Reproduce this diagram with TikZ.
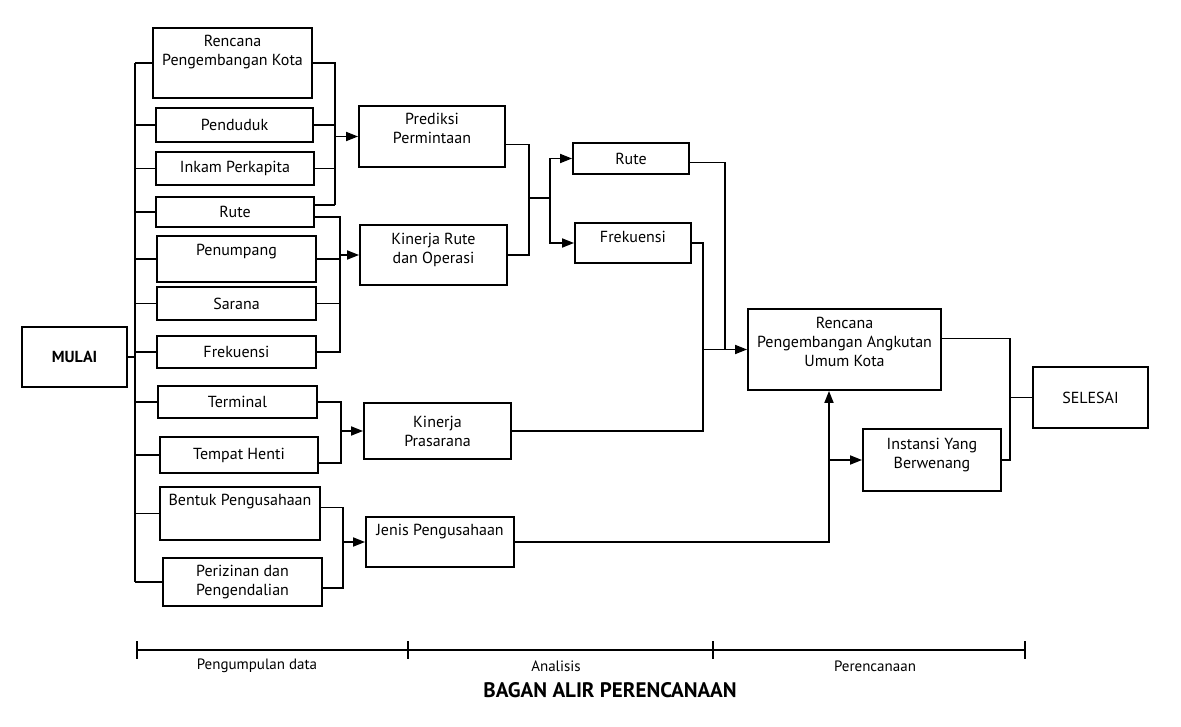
\documentclass[tikz,border=0pt]{standalone}
\usepackage{fontspec}
\setmainfont{PT Sans}
\usetikzlibrary{arrows.meta}
\tikzset{
  box/.style={draw, line width=1.9pt, align=center, inner sep=2pt,
    font=\fontsize{16}{19}\selectfont},
  arr/.style={-{Triangle[length=12pt,width=9pt]}},
  fase/.style={font=\fontsize{15}{17}\selectfont},
}
\begin{document}
\begin{tikzpicture}[x=1pt,y=-1pt,line width=1.8pt]
  \useasboundingbox[fill=white] (0,0) rectangle (1181,726);
  % kolom pengumpulan data
  \node[box, minimum width=105pt, minimum height=60pt, font=\fontsize{16}{19}\bfseries] (mulai) at (74.5,357) {MULAI};
  \node[box, minimum width=159pt, minimum height=70pt] (rpk) at (232.5,63) {Rencana\\Pengembangan Kota\\[6pt]\mbox{}};
  \node[box, minimum width=157pt, minimum height=34pt] (pend) at (234.5,125) {Penduduk};
  \node[box, minimum width=158pt, minimum height=33pt] (inkam) at (235,168.5) {Inkam Perkapita};
  \node[box, minimum width=158pt, minimum height=30pt] (rute1) at (235,212) {Rute};
  \node[box, minimum width=159pt, minimum height=46pt] (penump) at (236.5,259) {Penumpang\\[0pt]\mbox{}};
  \node[box, minimum width=159pt, minimum height=33pt] (sarana) at (236.5,303.5) {Sarana};
  \node[box, minimum width=159pt, minimum height=32pt] (frek1) at (236.5,352) {Frekuensi};
  \node[box, minimum width=159pt, minimum height=32pt] (terminal) at (237.5,402) {Terminal};
  \node[box, minimum width=158pt, minimum height=36pt] (tempat) at (239,455) {Tempat Henti};
  \node[box, minimum width=160pt, minimum height=53pt] (bentuk) at (240,513.5) {Bentuk Pengusahaan\\[8pt]\mbox{}};
  \node[box, minimum width=159pt, minimum height=48pt] (perizinan) at (242.5,582) {Perizinan dan\\Pengendalian};
  % kolom analisis
  \node[box, minimum width=146pt, minimum height=61pt] (prediksi) at (432,136.5) {Prediksi\\Permintaan\\[-3pt]\mbox{}};
  \node[box, minimum width=147pt, minimum height=60pt] (kinrute) at (433.5,255) {Kinerja Rute\\dan Operasi\\[-6pt]\mbox{}};
  \node[box, minimum width=147pt, minimum height=56pt] (kinpras) at (437.5,431) {Kinerja\\Prasarana};
  \node[box, minimum width=148pt, minimum height=50pt] (jenis) at (440,542) {Jenis Pengusahaan\\[6pt]\mbox{}};
  \node[box, minimum width=116pt, minimum height=31pt] (rute2) at (631,158.5) {Rute};
  \node[box, minimum width=116pt, minimum height=40pt] (frek2) at (633,243) {Frekuensi\\[-6pt]\mbox{}};
  % kolom perencanaan
  \node[box, minimum width=193pt, minimum height=81pt] (rpauk) at (844.5,349.5) {Rencana\\Pengembangan Angkutan\\Umum Kota\\[-3pt]\mbox{}};
  \node[box, minimum width=138pt, minimum height=62pt] (instansi) at (932,460) {Instansi Yang\\Berwenang\\[-6pt]\mbox{}};
  \node[box, minimum width=115pt, minimum height=61pt] (selesai) at (1090.5,397.5) {SELESAI};

  % garis bantu
  \coordinate (bus) at (135,0);
  \coordinate (b1) at (335,205);
  \coordinate (b2) at (340,0);
  \coordinate (b3) at (341,0);
  \coordinate (b4) at (343,0);
  \coordinate (b5) at (529,0);
  \coordinate (m1) at (529,198);
  \coordinate (m2) at (550,198);
  \coordinate (b7) at (725,0);
  \coordinate (b8) at (703,0);
  \coordinate (b9) at (829,0);
  \coordinate (b10) at (1010,0);

  % mulai ke data
  \draw (mulai.east) -- (mulai.east -| bus);
  \draw (rpk.west -| bus) -- (perizinan.west -| bus);
  \foreach \n in {rpk,pend,inkam,rute1,penump,sarana,frek1,terminal,tempat,bentuk,perizinan}
    \draw (\n.west) -- (\n.west -| bus);

  % data ke analisis
  \draw (rpk.east) -| (b1);
  \draw ([yshift=7pt]rute1.east) -- (b1);
  \draw (pend.east) -- (pend.east -| b1);
  \draw (inkam.east) -- (inkam.east -| b1);
  \draw[arr] (prediksi.west -| b1) -- (prediksi.west);

  \draw ([yshift=-5pt]rute1.east) -| (frek1.east -| b2) -- (frek1.east);
  \draw (sarana.east) -- (sarana.east -| b2);
  \draw (penump.east) -- (penump.east -| b2);
  \draw[arr] (kinrute.west -| b2) -- (kinrute.west);

  \draw (terminal.east) -| ([yshift=-8pt]tempat.east -| b3) -- ([yshift=-8pt]tempat.east);
  \draw[arr] (kinpras.west -| b3) -- (kinpras.west);

  \draw ([yshift=6pt]bentuk.east) -| ([yshift=-6pt]perizinan.east -| b4) -- ([yshift=-6pt]perizinan.east);
  \draw[arr] (jenis.west -| b4) -- (jenis.west);

  % analisis
  \draw ([yshift=-8pt]prediksi.east) -| (kinrute.east -| b5) -- (kinrute.east);
  \draw (m1) -- (m2);
  \draw[arr] (m2) |- (rute2.west);
  \draw[arr] (m2) |- (frek2.west);

  % analisis ke perencanaan
  \draw ([yshift=-4pt]rute2.east) -| (rpauk.west -| b7);
  \draw (frek2.east) -| (kinpras.east -| b8) -- (kinpras.east);
  \draw[arr] (rpauk.west -| b8) -- (rpauk.west);
  \draw[arr] (jenis.east) -| (rpauk.south -| b9);
  \draw[arr] (instansi.west -| b9) -- (instansi.west);
  \draw ([yshift=11pt]rpauk.east) -| (instansi.east -| b10) -- (instansi.east);
  \draw (selesai.west -| b10) -- (selesai.west);

  % garis waktu
  \draw (137,650) -- (1025,650);
  \foreach \x in {137,408,713,1025}
    \draw (\x,641) -- (\x,659);
  \node[fase] (tahap1) at (257,666) {Pengumpulan data};
  \node[fase] (tahap2) at (556,666) {Analisis};
  \node[fase] (tahap3) at (875,666) {Perencanaan};
  \node[font=\fontsize{21}{23}\bfseries] (judul) at (610,690) {BAGAN ALIR PERENCANAAN};
\end{tikzpicture}
\end{document}
